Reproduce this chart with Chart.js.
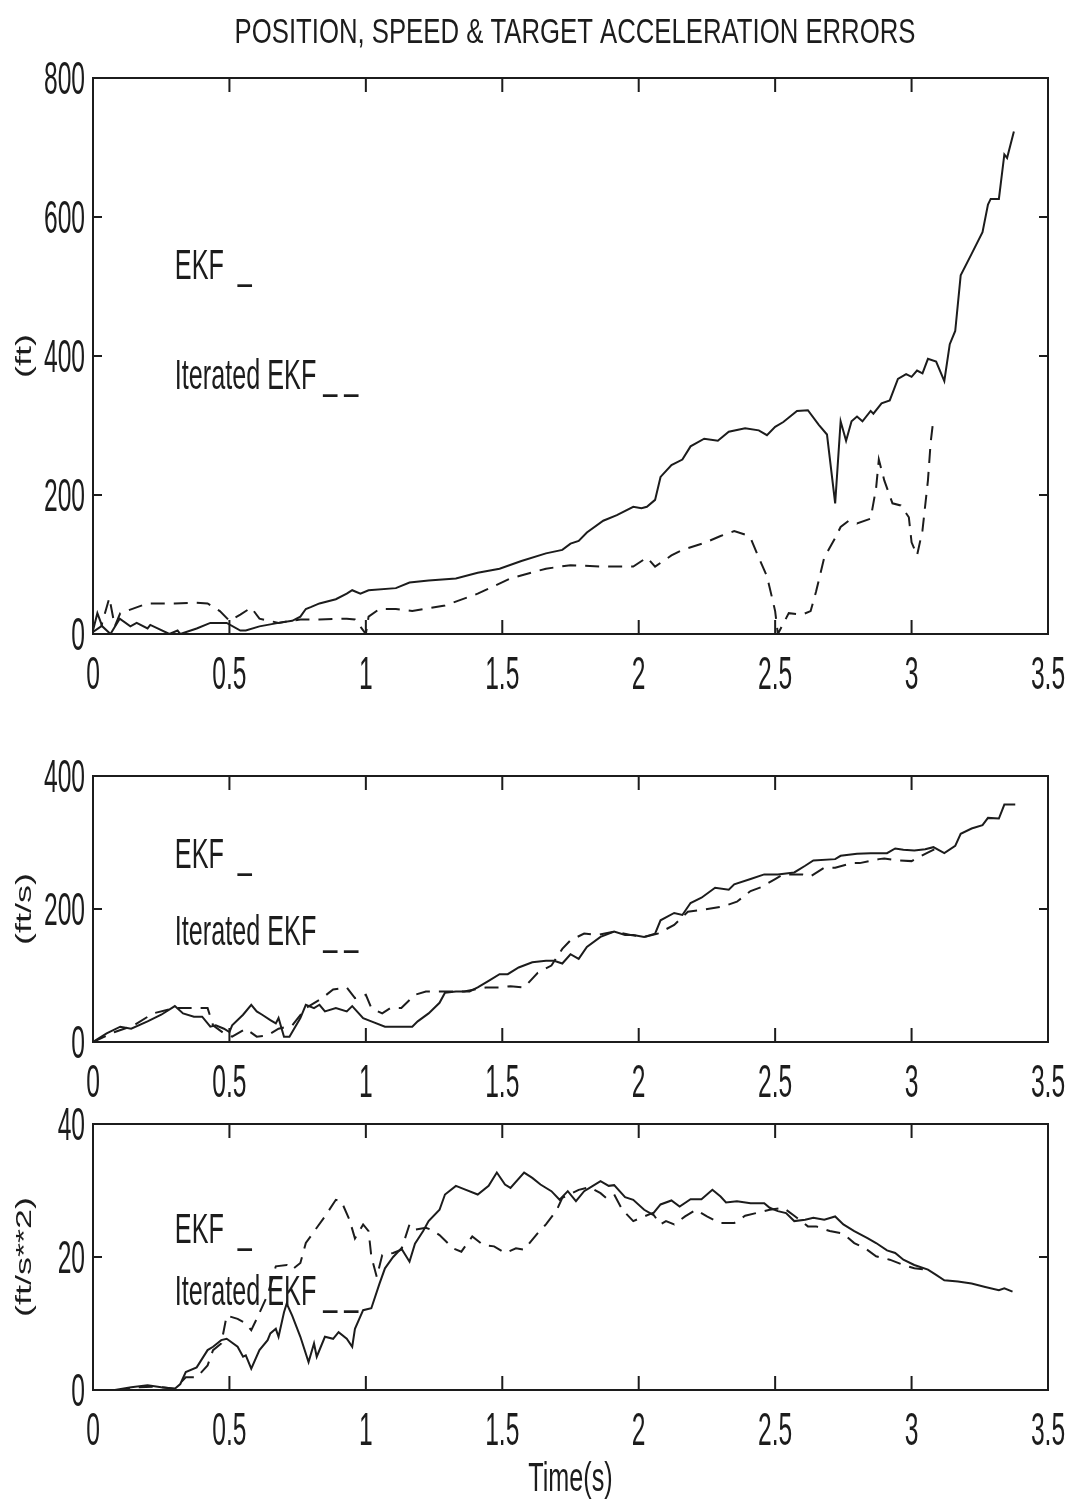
<!DOCTYPE html>
<html>
<head>
<meta charset="utf-8">
<title>Position, speed and target acceleration errors</title>
<script src="https://cdn.jsdelivr.net/npm/chart.js@4.4.1/dist/chart.umd.min.js"></script>
<style>
  body { margin: 0; background: #fff; }
  #wrap { position: relative; width: 1073px; height: 1504px; }
  #wrap canvas { position: absolute; left: 0; }
</style>
</head>
<body>
<div id="wrap">
  <canvas id="posChart" width="1073" height="705" style="top:0"></canvas>
  <canvas id="spdChart" width="1073" height="395" style="top:705px"></canvas>
  <canvas id="accChart" width="1073" height="404" style="top:1100px"></canvas>
</div>
<script>
// Tick values shared by the panels
const timeTicks = [0, 0.5, 1, 1.5, 2, 2.5, 3, 3.5];
const posTicks = [0, 200, 400, 600, 800];
const spdTicks = [0, 200, 400];
const accTicks = [0, 20, 40];

// Position error (ft)
const posEkfT = [0, 0.016, 0.034, 0.064, 0.098, 0.137, 0.16, 0.2, 0.21, 0.28, 0.31, 0.32, 0.38, 0.43, 0.49, 0.54, 0.56, 0.61, 0.68, 0.73,
  0.76, 0.78, 0.8, 0.83, 0.89, 0.93, 0.95, 0.98, 1.01, 1.11, 1.16, 1.23, 1.33, 1.41, 1.49, 1.57, 1.66, 1.72, 1.75, 1.78,
  1.81, 1.87, 1.92, 1.98, 2.01, 2.03, 2.06, 2.08, 2.12, 2.16, 2.19, 2.24, 2.29, 2.33, 2.39, 2.44, 2.47, 2.50, 2.53, 2.58,
  2.62, 2.66, 2.69, 2.72, 2.74, 2.76, 2.78, 2.80, 2.82, 2.85, 2.86, 2.89, 2.92, 2.95, 2.98, 3.00, 3.02, 3.04, 3.06, 3.09,
  3.12, 3.14, 3.16, 3.18, 3.22, 3.26, 3.28, 3.29, 3.32, 3.34, 3.35, 3.375];
const posEkf = [5, 30, 11, 0, 22, 11, 16, 8, 13, 0, 5, 0, 8, 16, 16, 5, 5, 11, 16, 19,
  25, 36, 39, 44, 50, 58, 63, 58, 63, 66, 74, 77, 80, 88, 94, 105, 116, 121, 130, 134,
  146, 163, 171, 183, 181, 183, 193, 226, 243, 251, 270, 281, 278, 291, 296, 293, 286, 298, 305, 321,
  322, 301, 287, 188, 306, 278, 306, 313, 306, 321, 317, 332, 336, 367, 374, 370, 379, 375, 396, 392,
  364, 417, 436, 516, 547, 578, 618, 626, 626, 690, 685, 723];
const posIterT = [0, 0.03, 0.06, 0.08, 0.1, 0.2, 0.3, 0.37, 0.42, 0.465, 0.5, 0.54, 0.58, 0.61, 0.68, 0.76, 0.83, 0.93, 0.96, 1.0,
  1.01, 1.05, 1.11, 1.17, 1.29, 1.41, 1.53, 1.66, 1.75, 1.87, 1.98, 2.03, 2.06, 2.12, 2.16, 2.24, 2.30, 2.35, 2.39, 2.41,
  2.44, 2.47, 2.49, 2.50, 2.51, 2.55, 2.60, 2.63, 2.65, 2.68, 2.72, 2.74, 2.77, 2.80, 2.85, 2.87, 2.88, 2.90, 2.93, 2.96,
  2.99, 3.00, 3.02, 3.04, 3.06, 3.07, 3.08];
const posIter = [3, 11, 52, 11, 30, 44, 44, 45, 44, 33, 19, 28, 38, 22, 16, 21, 21, 22, 21, 0,
  25, 36, 36, 33, 41, 58, 80, 94, 99, 97, 97, 110, 97, 113, 121, 131, 141, 148, 143, 138,
  110, 83, 50, 33, 0, 30, 28, 33, 61, 110, 138, 154, 163, 159, 166, 210, 251, 221, 188, 185,
  168, 132, 113, 149, 221, 276, 309];

// Speed error (ft/s)
const spdEkfT = [0, 0.05, 0.1, 0.14, 0.2, 0.25, 0.3, 0.33, 0.37, 0.40, 0.43, 0.45, 0.48, 0.5, 0.51, 0.55, 0.58, 0.60, 0.62, 0.65,
  0.67, 0.68, 0.70, 0.72, 0.76, 0.78, 0.81, 0.83, 0.85, 0.89, 0.93, 0.95, 0.99, 1.02, 1.07, 1.12, 1.17, 1.19, 1.23, 1.27,
  1.29, 1.33, 1.38, 1.41, 1.45, 1.49, 1.52, 1.56, 1.61, 1.66, 1.69, 1.72, 1.75, 1.78, 1.81, 1.86, 1.91, 1.95, 1.98, 2.02,
  2.06, 2.08, 2.13, 2.16, 2.19, 2.23, 2.28, 2.33, 2.35, 2.41, 2.46, 2.51, 2.57, 2.61, 2.64, 2.72, 2.74, 2.80, 2.85, 2.91,
  2.94, 2.97, 3.01, 3.05, 3.08, 3.12, 3.16, 3.18, 3.22, 3.26, 3.28, 3.32, 3.34, 3.38];
const spdEkf = [0, 13, 23, 20, 31, 41, 54, 43, 38, 38, 23, 25, 20, 15, 25, 41, 56, 46, 41, 33,
  28, 36, 8, 8, 36, 56, 51, 56, 46, 51, 46, 54, 36, 31, 23, 23, 23, 31, 43, 59,
  74, 76, 76, 82, 92, 102, 102, 112, 120, 122, 122, 118, 132, 125, 143, 158, 166, 161, 161, 158,
  163, 183, 194, 191, 209, 217, 232, 229, 237, 245, 252, 252, 255, 265, 273, 275, 280, 283, 284, 284,
  291, 289, 288, 290, 293, 284, 295, 313, 321, 326, 337, 336, 357, 357];
const spdIterT = [0, 0.08, 0.15, 0.22, 0.3, 0.37, 0.42, 0.44, 0.48, 0.51, 0.56, 0.6, 0.64, 0.68, 0.73, 0.78, 0.84, 0.88, 0.93, 0.96,
  1.0, 1.02, 1.06, 1.09, 1.13, 1.18, 1.22, 1.27, 1.32, 1.36, 1.44, 1.49, 1.53, 1.58, 1.63, 1.68, 1.72, 1.75, 1.80, 1.85,
  1.91, 1.97, 2.02, 2.07, 2.13, 2.18, 2.24, 2.31, 2.36, 2.41, 2.45, 2.50, 2.53, 2.60, 2.63, 2.68, 2.72, 2.78, 2.81, 2.88,
  2.90, 2.95, 3.00, 3.05, 3.09];
const spdIter = [0, 15, 25, 43, 51, 51, 51, 25, 13, 8, 20, 8, 10, 20, 25, 51, 66, 79, 82, 66,
  71, 51, 43, 51, 51, 71, 76, 76, 76, 76, 82, 82, 84, 82, 104, 115, 140, 153, 163, 161,
  166, 161, 158, 163, 176, 196, 199, 204, 211, 227, 233, 245, 252, 252, 249, 262, 262, 269, 269, 275,
  276, 273, 272, 283, 291];

// Target acceleration error (ft/s**2)
const accEkfT = [0, 0.08, 0.14, 0.2, 0.25, 0.3, 0.32, 0.34, 0.38, 0.42, 0.44, 0.47, 0.49, 0.53, 0.55, 0.56, 0.58, 0.61, 0.64, 0.65,
  0.67, 0.68, 0.70, 0.71, 0.73, 0.76, 0.79, 0.81, 0.82, 0.85, 0.88, 0.90, 0.93, 0.95, 0.96, 0.99, 1.02, 1.05, 1.07, 1.10,
  1.13, 1.16, 1.18, 1.21, 1.23, 1.27, 1.29, 1.33, 1.36, 1.41, 1.45, 1.48, 1.51, 1.53, 1.58, 1.61, 1.64, 1.68, 1.71, 1.74,
  1.77, 1.80, 1.82, 1.86, 1.89, 1.91, 1.95, 1.98, 2.02, 2.05, 2.08, 2.12, 2.15, 2.19, 2.23, 2.27, 2.30, 2.32, 2.36, 2.41,
  2.46, 2.48, 2.51, 2.54, 2.57, 2.61, 2.64, 2.68, 2.72, 2.75, 2.79, 2.84, 2.87, 2.91, 2.94, 2.97, 3.01, 3.06, 3.09, 3.12,
  3.17, 3.22, 3.27, 3.32, 3.34, 3.37];
const accEkf = [0, 0, 0.4, 0.7, 0.4, 0.2, 0.9, 2.7, 3.4, 6, 6.5, 7.5, 7.7, 6.5, 5, 5.2, 3.2, 6, 7.5, 8.5,
  9.2, 8, 11.7, 13, 11.2, 8, 4.2, 7, 5, 8, 7.7, 8.7, 7.7, 6.5, 9.2, 12, 12.3, 16, 18.3, 20,
  21.3, 19.3, 22, 23.9, 25.4, 27.1, 29.4, 30.7, 30.2, 29.4, 30.7, 32.7, 30.9, 30.4, 32.7, 31.9, 30.9, 29.9, 28.6, 29.9,
  28.4, 29.9, 30.4, 31.4, 30.7, 30.8, 29.0, 28.6, 27.1, 26.4, 27.9, 28.5, 27.6, 28.7, 28.7, 30.1, 29.1, 28.2, 28.4, 28.1,
  28.1, 27.4, 26.9, 26.6, 25.4, 25.6, 25.9, 25.6, 26.1, 24.9, 23.9, 22.8, 22.1, 21.0, 20.6, 19.6, 18.8, 18.1, 17.3, 16.5,
  16.3, 16.0, 15.5, 15.0, 15.3, 14.8];
const accIterT = [0, 0.1, 0.15, 0.23, 0.3, 0.34, 0.38, 0.42, 0.44, 0.47, 0.49, 0.53, 0.56, 0.58, 0.60, 0.64, 0.67, 0.71, 0.73, 0.76,
  0.78, 0.82, 0.85, 0.89, 0.91, 0.94, 0.96, 0.99, 1.01, 1.02, 1.04, 1.06, 1.10, 1.13, 1.16, 1.18, 1.22, 1.24, 1.27, 1.32,
  1.35, 1.39, 1.43, 1.47, 1.51, 1.55, 1.58, 1.63, 1.66, 1.70, 1.72, 1.78, 1.82, 1.86, 1.88, 1.91, 1.94, 1.98, 2.02, 2.05,
  2.08, 2.10, 2.13, 2.17, 2.21, 2.25, 2.30, 2.35, 2.39, 2.43, 2.48, 2.53, 2.57, 2.62, 2.65, 2.70, 2.75, 2.79, 2.83, 2.87,
  2.92, 2.97, 3.01, 3.06];
const accIter = [0, 0, 0.4, 0.5, 0.2, 1.9, 1.9, 3.7, 6, 7, 11.2, 10.7, 10, 9, 10.7, 14.3, 18.6, 18.8, 18.1, 19.1,
  22.1, 24.4, 26.1, 28.6, 28.4, 25.6, 22.8, 24.9, 23.9, 20.1, 17.0, 20.3, 20.6, 21.1, 24.9, 24.1, 24.4, 24.1, 23.3, 21.3,
  20.8, 23.1, 21.8, 21.6, 20.6, 21.3, 21.1, 23.6, 24.9, 27.1, 28.9, 30.1, 30.5, 29.6, 28.9, 29.4, 27.1, 25.4, 26.1, 26.6,
  24.9, 25.4, 24.9, 26.1, 27.1, 26.1, 25.1, 25.1, 26.2, 26.6, 27.1, 27.4, 26.2, 24.6, 24.6, 23.9, 23.5, 22.1, 21.3, 20.1,
  19.6, 18.8, 18.3, 18.1];

const INK = '#1c1c1c';
const FONT = "'Liberation Sans', Arial, sans-serif";

function toPoints(t, v) {
  return t.map((x, i) => ({ x: x, y: v[i] }));
}

// narrow, Helvetica-condensed look: plain sans squeezed horizontally
function squeezed(ctx, text, x, y, size, sx, align) {
  ctx.save();
  ctx.font = size + 'px ' + FONT;
  ctx.textAlign = 'left';
  ctx.textBaseline = 'alphabetic';
  const w = ctx.measureText(text).width * sx;
  let left = x;
  if (align === 'center') left = x - w / 2;
  else if (align === 'right') left = x - w;
  ctx.translate(left, y);
  ctx.scale(sx, 1);
  ctx.fillText(text, 0, 0);
  ctx.restore();
}

// box around the plot area with inward ticks on all four sides
const frame = {
  id: 'frame',
  afterDraw(chart) {
    const { ctx, chartArea: a, scales: { x, y } } = chart;
    ctx.save();
    ctx.strokeStyle = INK;
    ctx.lineWidth = 2;
    ctx.strokeRect(a.left, a.top, a.right - a.left, a.bottom - a.top);
    ctx.beginPath();
    x.ticks.forEach(t => {
      if (t.value <= x.min || t.value >= x.max) return;
      const px = x.getPixelForValue(t.value);
      ctx.moveTo(px, a.top); ctx.lineTo(px, a.top + 14);
      ctx.moveTo(px, a.bottom); ctx.lineTo(px, a.bottom - 14);
    });
    y.ticks.forEach(t => {
      if (t.value <= y.min || t.value >= y.max) return;
      const py = y.getPixelForValue(t.value);
      ctx.moveTo(a.left, py); ctx.lineTo(a.left + 9, py);
      ctx.moveTo(a.right, py); ctx.lineTo(a.right - 9, py);
    });
    ctx.stroke();
    ctx.restore();
  }
};

function makePanel(id, p) {
  // tick labels, axis titles and the in-plot legend text
  const labels = {
    id: 'labels',
    afterDraw(chart) {
      const { ctx, chartArea: a, scales: { x, y } } = chart;
      ctx.save();
      ctx.fillStyle = INK;
      x.ticks.forEach(t => squeezed(ctx, String(t.value), x.getPixelForValue(t.value), a.bottom + 55, 46, 0.535, 'center'));
      y.ticks.forEach(t => squeezed(ctx, String(t.value), a.left - 8, y.getPixelForValue(t.value) + 16, 46, 0.535, 'right'));

      // rotated y label, squeezed across the screen x direction
      ctx.save();
      ctx.font = '36px ' + FONT;
      ctx.translate(25, (a.top + a.bottom) / 2);
      ctx.scale(0.6, 1);
      ctx.rotate(-Math.PI / 2);
      ctx.textAlign = 'center';
      ctx.textBaseline = 'middle';
      ctx.fillText(p.yLabel, 0, 0);
      ctx.restore();

      p.notes.forEach(n => squeezed(ctx, n.text, x.getPixelForValue(n.x), y.getPixelForValue(n.y), 42, 0.6, 'left'));
      if (p.title) squeezed(ctx, p.title, 575, 43, 35, 0.735, 'center');
      if (p.xLabel) squeezed(ctx, p.xLabel, (a.left + a.right) / 2, a.bottom + 101, 40, 0.63, 'center');
      ctx.restore();
    }
  };

  return new Chart(document.getElementById(id).getContext('2d'), {
    type: 'line',
    data: {
      datasets: [
        { label: 'EKF', data: toPoints(p.ekfT, p.ekf), borderColor: INK, borderWidth: 2,
          pointRadius: 0, tension: 0 },
        { label: 'Iterated EKF', data: toPoints(p.iterT, p.iter), borderColor: INK, borderWidth: 2,
          borderDash: [14, 9], pointRadius: 0, tension: 0 }
      ]
    },
    options: {
      responsive: false,
      animation: false,
      events: [],
      layout: { padding: { left: 0, right: 25, top: p.top, bottom: 0 } },
      plugins: { legend: { display: false }, tooltip: { enabled: false } },
      scales: {
        x: {
          type: 'linear', min: 0, max: 3.5,
          grid: { display: false, drawTicks: false },
          border: { display: false },
          ticks: { display: false },
          afterBuildTicks: s => { s.ticks = timeTicks.map(v => ({ value: v })); },
          afterFit: s => { s.height = p.xHeight; }
        },
        y: {
          min: 0, max: p.yTicks[p.yTicks.length - 1],
          grid: { display: false, drawTicks: false },
          border: { display: false },
          ticks: { display: false },
          afterBuildTicks: s => { s.ticks = p.yTicks.map(v => ({ value: v })); },
          afterFit: s => { s.width = 93; }
        }
      }
    },
    plugins: [frame, labels]
  });
}

makePanel('posChart', {
  ekfT: posEkfT, ekf: posEkf, iterT: posIterT, iter: posIter,
  yTicks: posTicks, yLabel: '(ft)', top: 78, xHeight: 71,
  title: 'POSITION, SPEED & TARGET ACCELERATION ERRORS',
  notes: [{ text: 'EKF  _', x: 0.30, y: 511 }, { text: 'Iterated EKF _ _', x: 0.30, y: 352 }]
});

makePanel('spdChart', {
  ekfT: spdEkfT, ekf: spdEkf, iterT: spdIterT, iter: spdIter,
  yTicks: spdTicks, yLabel: '(ft/s)', top: 71, xHeight: 58,
  notes: [{ text: 'EKF  _', x: 0.30, y: 262 }, { text: 'Iterated EKF _ _', x: 0.30, y: 146 }]
});

makePanel('accChart', {
  ekfT: accEkfT, ekf: accEkf, iterT: accIterT, iter: accIter,
  yTicks: accTicks, yLabel: '(ft/s**2)', top: 24, xHeight: 114,
  xLabel: 'Time(s)',
  notes: [{ text: 'EKF  _', x: 0.30, y: 22.1 }, { text: 'Iterated EKF _ _', x: 0.30, y: 12.8 }]
});
</script>
</body>
</html>
